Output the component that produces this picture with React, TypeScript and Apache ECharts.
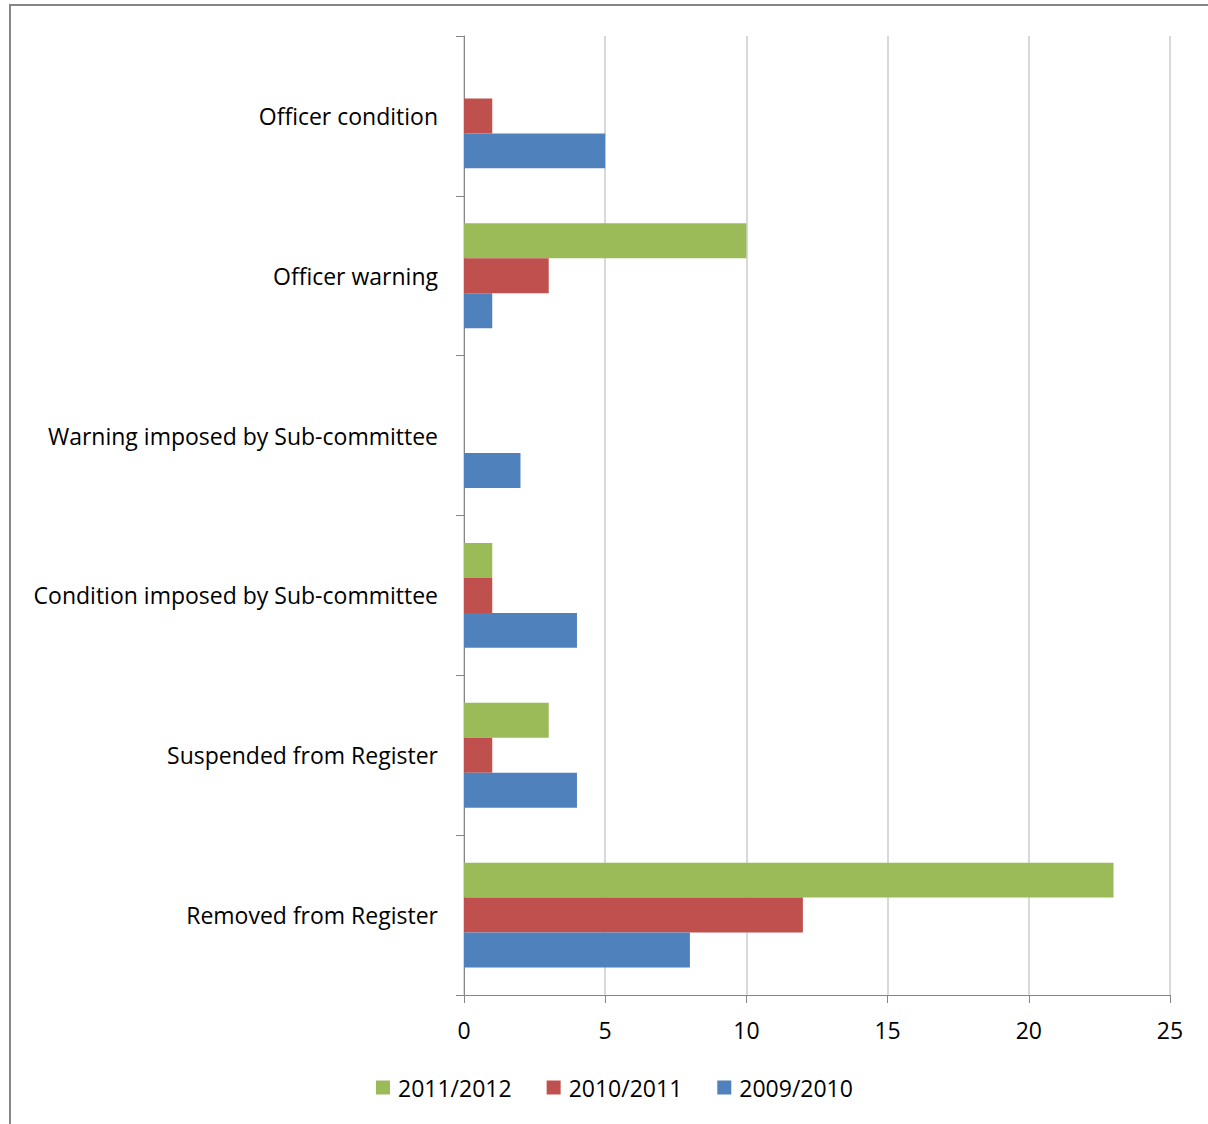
import React, { useEffect, useRef } from "react";
import * as echarts from "echarts";

const categories = [
  "Removed from Register",
  "Suspended from Register",
  "Condition imposed by Sub-committee",
  "Warning imposed by Sub-committee",
  "Officer warning",
  "Officer condition",
];
const s2009 = [8, 4, 4, 2, 1, 5];
const s2010 = [12, 1, 1, 0, 3, 1];
const s2011 = [23, 3, 1, 0, 10, 0];
const seriesNames = ["2011/2012", "2010/2011", "2009/2010"];
const xTicks = { min: 0, max: 25, interval: 5 };

const FONT = "'Open Sans', sans-serif";

export default function App() {
  const ref = useRef<HTMLDivElement>(null);
  useEffect(() => {
    document.body.style.margin = "0";
    const chart = echarts.init(ref.current!, null, { renderer: "svg" });
    const bar = (name: string, data: number[], color: string) => ({
      name,
      type: "bar",
      data,
      barGap: "0%",
      barCategoryGap: "34.4%",
      itemStyle: { color },
    });
    chart.setOption({
      animation: false,
      textStyle: { fontFamily: FONT },
      graphic: [
        {
          type: "rect",
          shape: { x: 10, y: 5, width: 1300, height: 1300 },
          style: { fill: "none", stroke: "#868686", lineWidth: 2 },
          silent: true,
        },
      ],
      grid: { left: 464, top: 36, right: 38, bottom: 129, containLabel: false },
      legend: {
        left: 376,
        top: 1076,
        padding: 0,
        itemWidth: 14,
        itemHeight: 14,
        itemGap: 35,
        icon: "rect",
        data: seriesNames,
        textStyle: { fontFamily: FONT, fontSize: 23, color: "#000", padding: [0, 0, 0, 3] },
      },
      xAxis: {
        type: "value",
        min: xTicks.min,
        max: xTicks.max,
        interval: xTicks.interval,
        axisLine: { show: true, lineStyle: { color: "#868686", width: 1 } },
        axisTick: { show: true, length: 8, lineStyle: { color: "#868686" } },
        axisLabel: { fontFamily: FONT, fontSize: 23, color: "#000", margin: 23 },
        splitLine: { show: true, lineStyle: { color: "#d9d9d9", width: 2 } },
      },
      yAxis: {
        type: "category",
        data: categories,
        axisLine: { show: true, lineStyle: { color: "#868686", width: 1 } },
        axisTick: { show: true, length: 8, lineStyle: { color: "#868686" } },
        axisLabel: { fontFamily: FONT, fontSize: 23, color: "#000", margin: 26 },
        splitLine: { show: false },
      },
      series: [
        bar("2011/2012", s2011, "#9BBB59"),
        bar("2010/2011", s2010, "#C0504D"),
        bar("2009/2010", s2009, "#4F81BD"),
      ],
    });
    return () => chart.dispose();
  }, []);
  return <div ref={ref} style={{ width: 1208, height: 1124 }} />;
}
